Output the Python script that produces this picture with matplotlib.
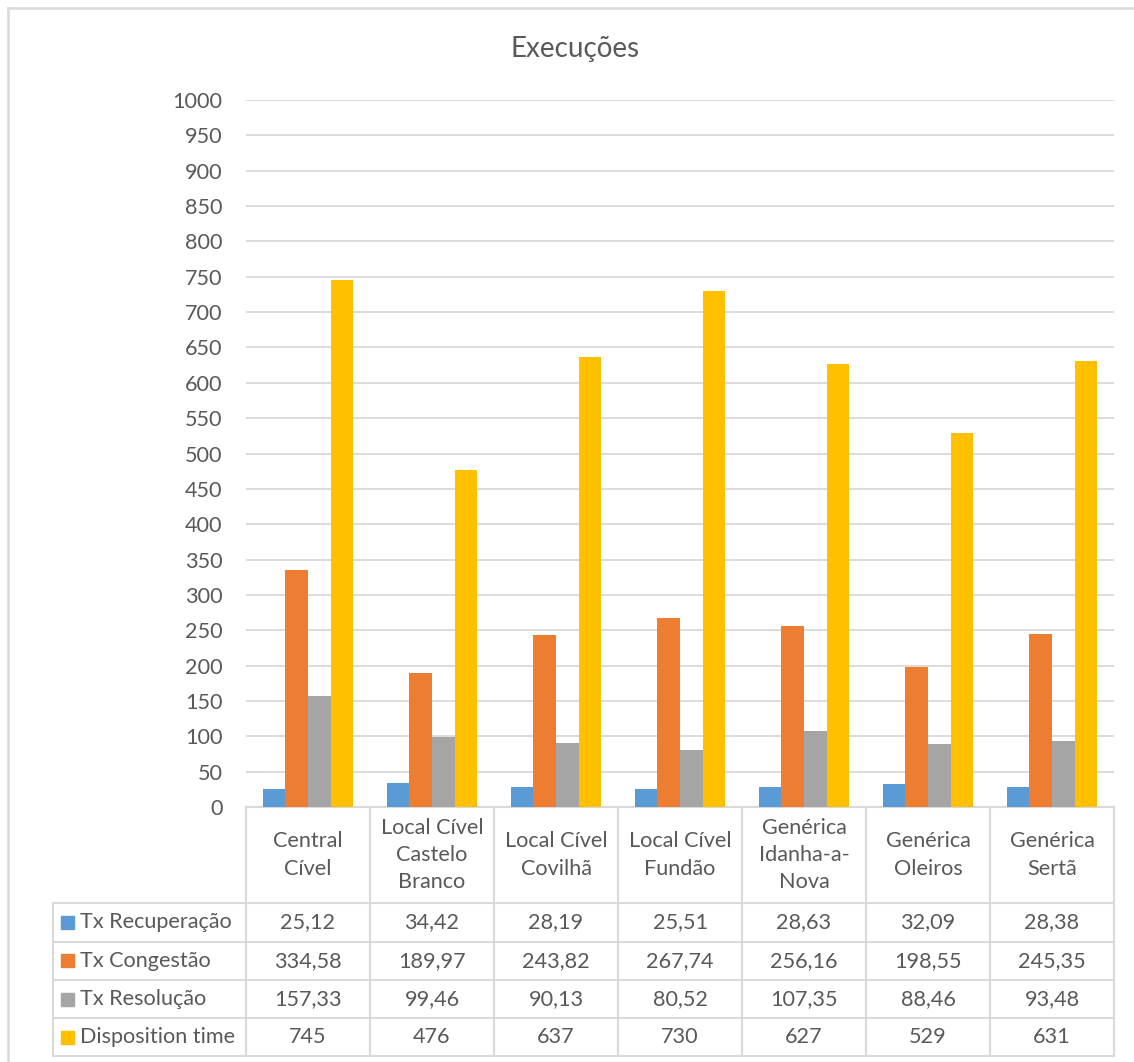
import numpy as np
import matplotlib
matplotlib.use("Agg")
import matplotlib.pyplot as plt

# data
categories = ["Central\nCível", "Local Cível\nCastelo\nBranco", "Local Cível\nCovilhã",
              "Local Cível\nFundão", "Genérica\nIdanha-a-\nNova", "Genérica\nOleiros",
              "Genérica\nSertã"]
series_names = ["Tx Recuperação", "Tx Congestão", "Tx Resolução", "Disposition time"]
tx_recuperacao = [25.12, 34.42, 28.19, 25.51, 28.63, 32.09, 28.38]
tx_congestao = [334.58, 189.97, 243.82, 267.74, 256.16, 198.55, 245.35]
tx_resolucao = [157.33, 99.46, 90.13, 80.52, 107.35, 88.46, 93.48]
disposition_time = [745, 476, 637, 730, 627, 529, 631]
yticks = list(range(0, 1001, 50))

colors = ["#5b9bd5", "#ed7d31", "#a5a5a5", "#ffc000"]
txt = "#595959"
line = "#d9d9d9"
fs = 15.6
plt.rcParams["font.family"] = ["Lato", "DejaVu Sans"]

W, H = 1134, 1062
fig = plt.figure(figsize=(W / 100, H / 100), dpi=100)

# overlay in pixel coordinates for frame, title and table
ov = fig.add_axes([0, 0, 1, 1])
ov.set_xlim(0, W)
ov.set_ylim(H, 0)
ov.axis("off")

# plot area position (pixels)
x0, x1 = 246, 1114
y_top, y_zero = 100, 807

ax = fig.add_axes([x0 / W, (H - y_zero) / H, (x1 - x0) / W, (y_zero - y_top) / H])
ax.set_facecolor("none")
values = [tx_recuperacao, tx_congestao, tx_resolucao, disposition_time]
x = np.arange(len(categories))
bw = 0.182
for i, vals in enumerate(values):
    ax.bar(x + (i - 1.5) * bw, vals, width=bw, color=colors[i], zorder=3)
ax.set_xlim(-0.5, len(categories) - 0.5)
ax.set_ylim(0, 1000)
ax.set_yticks(yticks)
ax.set_yticklabels([str(t) for t in yticks], fontsize=fs, color=txt)
ax.tick_params(axis="y", length=0, pad=17)
ax.set_xticks([])
for t in yticks[1:]:
    ax.axhline(t, color=line, lw=1.3, zorder=1)
for s in ax.spines.values():
    s.set_visible(False)

# outer frame
ov.plot([8, 8], [8, H + 5], color=line, lw=1.8)
ov.plot([8, W + 5], [8, 8], color=line, lw=1.8)

# title
ov.text(575, 49, "Execuções", ha="center", va="center", fontsize=20, color=txt)

# data table
tl = 53
col_w = (x1 - x0) / len(categories)
row_y = [903, 941.5, 980, 1018, 1056]
lw_t = 1.5
ov.plot([x0, x1], [y_zero, y_zero], color=line, lw=lw_t)
for y in row_y:
    ov.plot([tl, x1], [y, y], color=line, lw=lw_t)
ov.plot([tl, tl], [row_y[0], row_y[-1]], color=line, lw=lw_t)
for j in range(len(categories) + 1):
    xx = x0 + j * col_w
    ov.plot([xx, xx], [y_zero, row_y[-1]], color=line, lw=lw_t)

for j, cat in enumerate(categories):
    ov.text(x0 + (j + 0.5) * col_w, (y_zero + row_y[0]) / 2, cat, ha="center",
            va="center", fontsize=fs, color=txt, linespacing=1.45)

for i, (name, vals) in enumerate(zip(series_names, values)):
    yc = (row_y[i] + row_y[i + 1]) / 2
    ov.add_patch(plt.Rectangle((61, yc - 6.5), 13, 13, color=colors[i]))
    ov.text(80, yc, name, ha="left", va="center", fontsize=fs, color=txt)
    for j, v in enumerate(vals):
        s = str(v) if isinstance(v, int) else f"{v:.2f}".replace(".", ",")
        ov.text(x0 + (j + 0.5) * col_w, yc, s, ha="center", va="center",
                fontsize=fs, color=txt)

plt.savefig("out.png", dpi=100)
